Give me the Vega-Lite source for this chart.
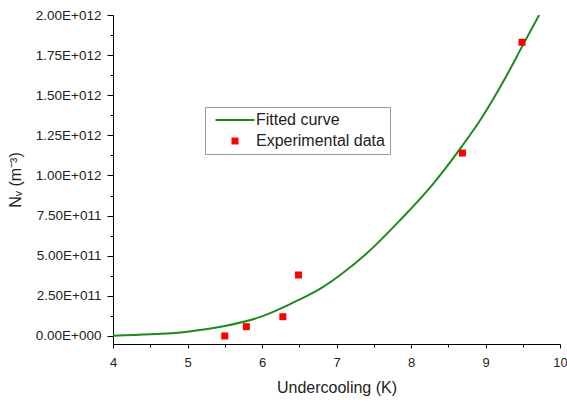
{
  "$schema": "https://vega.github.io/schema/vega-lite/v6.json",
  "width": 447,
  "height": 329,
  "autosize": {"type": "none"},
  "padding": {"left": 113, "top": 15, "right": 7, "bottom": 59},
  "background": "white",
  "config": {
    "view": {"stroke": null},
    "font": "Liberation Sans",
    "axis": {"grid": false, "domainColor": "#000", "tickColor": "#000", "labelColor": "#222", "titleColor": "#222", "labelFont": "Liberation Sans", "titleFont": "Liberation Sans", "titleFontWeight": "normal"}
  },
  "datasets": {
    "curve": [
      {"x": 4.0, "y": 2000000000, "series": "Fitted curve"},
      {"x": 4.5, "y": 10000000000, "series": "Fitted curve"},
      {"x": 5.0, "y": 27000000000, "series": "Fitted curve"},
      {"x": 5.5, "y": 62000000000, "series": "Fitted curve"},
      {"x": 6.0, "y": 122000000000, "series": "Fitted curve"},
      {"x": 6.5, "y": 226000000000, "series": "Fitted curve"},
      {"x": 6.8, "y": 300000000000, "series": "Fitted curve"},
      {"x": 7.05, "y": 380000000000, "series": "Fitted curve"},
      {"x": 7.4, "y": 512000000000, "series": "Fitted curve"},
      {"x": 7.85, "y": 720000000000, "series": "Fitted curve"},
      {"x": 8.3, "y": 950000000000, "series": "Fitted curve"},
      {"x": 8.68, "y": 1180000000000, "series": "Fitted curve"},
      {"x": 8.95, "y": 1360000000000, "series": "Fitted curve"},
      {"x": 9.28, "y": 1620000000000, "series": "Fitted curve"},
      {"x": 9.51, "y": 1820000000000, "series": "Fitted curve"},
      {"x": 9.72, "y": 2000000000000, "series": "Fitted curve"}
    ],
    "exp": [
      {"x": 5.5, "y": 0, "series": "Experimental data"},
      {"x": 5.79, "y": 58000000000, "series": "Experimental data"},
      {"x": 6.28, "y": 120000000000, "series": "Experimental data"},
      {"x": 6.49, "y": 380000000000, "series": "Experimental data"},
      {"x": 8.69, "y": 1140000000000, "series": "Experimental data"},
      {"x": 9.49, "y": 1830000000000, "series": "Experimental data"}
    ]
  },
  "resolve": {"axis": {"x": "independent", "y": "independent"}},
  "layer": [
    {
      "data": {"name": "curve"},
      "mark": {"type": "line", "strokeWidth": 2, "interpolate": "monotone", "clip": true},
      "encoding": {
        "x": {"field": "x", "type": "quantitative", "scale": {"domain": [4, 10], "nice": false, "zero": false},
          "axis": {"orient": "bottom", "values": [4, 5, 6, 7, 8, 9, 10], "title": "Undercooling (K)", "titleFontSize": 16, "labelFontSize": 13, "tickSize": 4, "labelPadding": 8, "titlePadding": 10, "labelFlush": false, "labelOverlap": false}},
        "y": {"field": "y", "type": "quantitative", "scale": {"domain": [-50000000000, 2000000000000], "nice": false, "zero": false},
          "axis": {"orient": "left", "values": [0, 250000000000, 500000000000, 750000000000, 1000000000000, 1250000000000, 1500000000000, 1750000000000, 2000000000000],
            "labelExpr": "datum.value == 0 ? '0.00E+000' : format(datum.value / pow(10, floor(log(datum.value) / LN10 + 1e-9)), '.2f') + 'E+' + pad('' + floor(log(datum.value) / LN10 + 1e-9), 3, '0', 'left')",
            "title": "Nᵥ (m⁻³)", "titleFontSize": 16, "labelFontSize": 13.5, "tickSize": 6, "labelPadding": 6, "titlePadding": 12, "labelFlush": false, "labelOverlap": false}},
        "color": {"field": "series", "type": "nominal",
          "scale": {"domain": ["Fitted curve", "Experimental data"], "range": ["#1b8c1b", "#ff0000"]},
          "legend": {"orient": "none", "legendX": 92, "legendY": 92, "title": null, "strokeColor": "#9a9a9a", "fillColor": "white", "padding": 5,
            "labelFontSize": 16, "labelColor": "#222", "labelFont": "Liberation Sans", "symbolStrokeWidth": 2, "symbolOffset": 17, "labelOffset": 13, "rowPadding": 5,
            "encode": {"symbols": {"update": {
              "shape": {"signal": "datum.value === 'Fitted curve' ? 'stroke' : 'square'"},
              "size": {"signal": "datum.value === 'Fitted curve' ? 1521 : 49"},
              "strokeWidth": {"signal": "datum.value === 'Fitted curve' ? 2 : 0"},
              "stroke": {"signal": "datum.value === 'Fitted curve' ? '#1b8c1b' : 'transparent'"},
              "fill": {"signal": "datum.value === 'Fitted curve' ? 'transparent' : '#ff0000'"},
              "opacity": {"value": 1}
            }}}}
        }
      }
    },
    {
      "data": {"name": "exp"},
      "mark": {"type": "point", "shape": "square", "filled": true, "size": 49, "opacity": 1},
      "encoding": {
        "x": {"field": "x", "type": "quantitative",
          "axis": {"orient": "bottom", "values": [4.5, 5.5, 6.5, 7.5, 8.5, 9.5], "labels": false, "domain": false, "title": null, "tickSize": 3}},
        "y": {"field": "y", "type": "quantitative",
          "axis": {"orient": "left", "values": [125000000000, 375000000000, 625000000000, 875000000000, 1125000000000, 1375000000000, 1625000000000, 1875000000000], "labels": false, "domain": false, "title": null, "tickSize": 3}},
        "color": {"field": "series", "type": "nominal"}
      }
    }
  ]
}
